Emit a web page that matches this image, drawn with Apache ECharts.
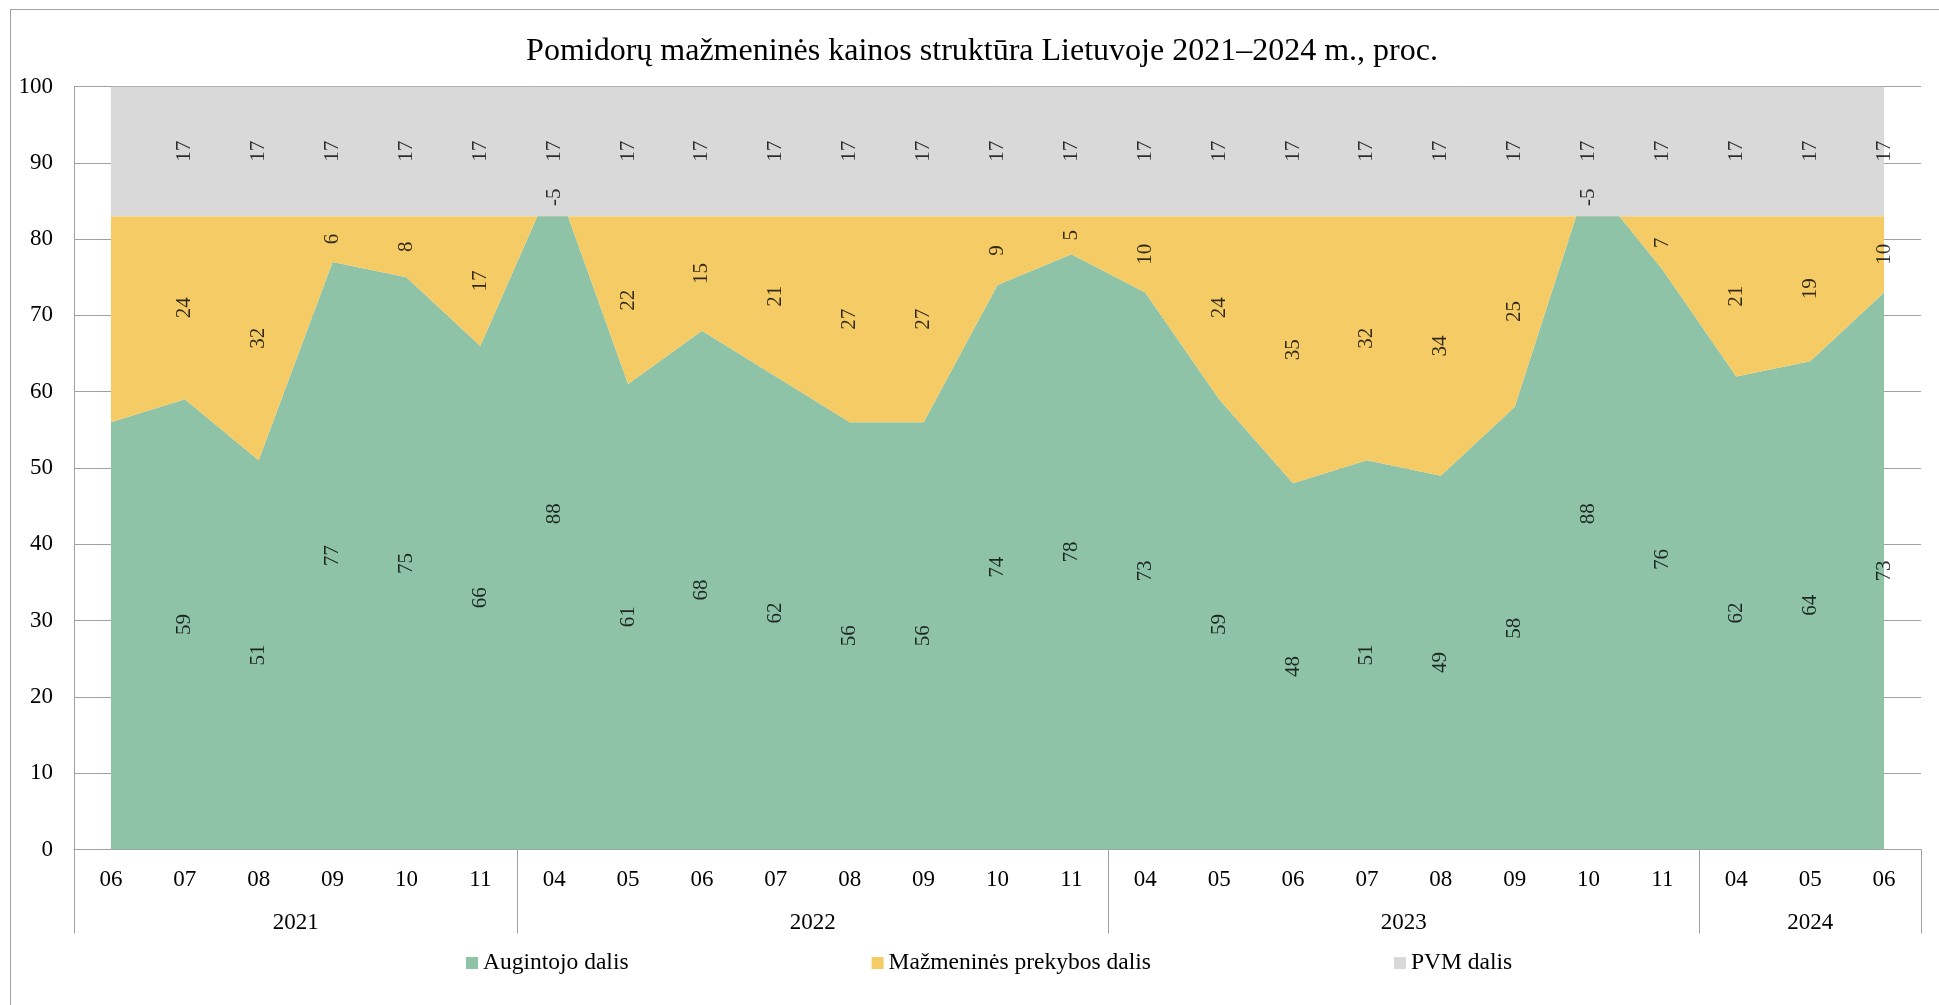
<!DOCTYPE html>
<html lang="lt">
<head>
<meta charset="utf-8">
<title>Pomidorų mažmeninės kainos struktūra</title>
<script src="https://cdn.jsdelivr.net/npm/echarts@6.0.0/dist/echarts.min.js"></script>
<style>
  html, body { margin: 0; padding: 0; background: #fff; overflow: hidden; }
  #chart { width: 1939px; height: 1005px; }
  #frame {
    position: absolute; left: 10px; top: 9px;
    width: 2000px; height: 1100px;
    border: 1px solid #a0a0a0; pointer-events: none;
  }
</style>
</head>
<body>
<div id="chart"></div>
<div id="frame"></div>
<script>
// Months shown on the axis, grouped by year
const months = ['06', '07', '08', '09', '10', '11',
                '04', '05', '06', '07', '08', '09', '10', '11',
                '04', '05', '06', '07', '08', '09', '10', '11',
                '04', '05', '06'];
const years = ['2021', '2022', '2023', '2024'];
const monthsPerYear = [6, 8, 8, 3];

// Price structure shares, %
const growerShare = [56, 59, 51, 77, 75, 66, 88, 61, 68, 62, 56, 56, 74, 78,
                     73, 59, 48, 51, 49, 58, 88, 76, 62, 64, 73];
const retailShare = [27, 24, 32, 6, 8, 17, -5, 22, 15, 21, 27, 27, 9, 5,
                     10, 24, 35, 32, 34, 25, -5, 7, 21, 19, 10];
const vatShare = [17, 17, 17, 17, 17, 17, 17, 17, 17, 17, 17, 17, 17, 17,
                  17, 17, 17, 17, 17, 17, 17, 17, 17, 17, 17];

const yTicks = { min: 0, max: 100, interval: 10 };

const seriesNames = ['Augintojo dalis', 'Mažmeninės prekybos dalis', 'PVM dalis'];
const seriesColors = ['#8fc3a7', '#f5cb66', '#d9d9d9'];
const FONT = "'Liberation Serif', 'Times New Roman', serif";
const AXIS_GREY = '#a0a0a0';

// Year group boundaries and centres on a 0..N index scale
const yearEdges = [0];
monthsPerYear.forEach(n => yearEdges.push(yearEdges[yearEdges.length - 1] + n));
const yearCentres = years.map((_, i) => (yearEdges[i] + yearEdges[i + 1]) / 2);

const shares = [growerShare, retailShare, vatShare];

// Cumulative base under each layer
const bases = [];
let running = growerShare.map(() => 0);
shares.forEach(vals => {
  bases.push(running.slice());
  running = running.map((b, i) => b + vals[i]);
});

const areaSeries = shares.map((vals, k) => ({
  name: seriesNames[k],
  type: 'line',
  stack: 'structure',
  stackStrategy: 'all',
  data: vals,
  symbol: 'none',
  lineStyle: { width: 0 },
  itemStyle: { color: seriesColors[k] },
  areaStyle: { color: seriesColors[k], opacity: 1 },
  emphasis: { disabled: true },
  z: 2
}));

// Value labels centred inside each band
const labelSeries = shares.map((vals, k) => ({
  name: seriesNames[k] + ' (reikšmės)',
  type: 'scatter',
  data: vals.map((v, i) => [i, bases[k][i] + v / 2, v]),
  encode: { x: 0, y: 1 },
  symbolSize: 1,
  itemStyle: { color: 'transparent' },
  silent: true,
  z: 5,
  label: {
    show: true,
    position: 'inside',
    rotate: 90,
    fontFamily: FONT,
    fontSize: 21,
    color: '#000',
    formatter: p => (p.dataIndex === 0 ? '' : String(p.value[2]))
  }
}));

const chart = echarts.init(document.getElementById('chart'), null, { renderer: 'canvas' });

chart.setOption({
  animation: false,
  backgroundColor: '#fff',
  textStyle: { fontFamily: FONT },
  title: {
    text: 'Pomidorų mažmeninės kainos struktūra Lietuvoje 2021–2024 m., proc.',
    left: 977,
    textAlign: 'center',
    top: 31,
    textStyle: { fontFamily: FONT, fontSize: 32, fontWeight: 'normal', color: '#000' }
  },
  legend: {
    data: seriesNames,
    left: 461,
    top: 946,
    icon: 'rect',
    itemWidth: 12,
    itemHeight: 12,
    itemGap: 243,
    textStyle: { fontFamily: FONT, fontSize: 23.5, color: '#000' },
    selectedMode: false
  },
  grid: { left: 74, right: 18, top: 86.5, bottom: 155.5, containLabel: false },
  xAxis: [
    {
      type: 'category',
      data: months,
      boundaryGap: true,
      position: 'bottom',
      axisLine: { lineStyle: { color: AXIS_GREY, width: 1 } },
      axisTick: { show: false },
      axisLabel: { fontFamily: FONT, fontSize: 23, color: '#000', margin: 19, interval: 0 },
      splitLine: { show: false }
    },
    {
      type: 'value',
      min: 0,
      max: months.length,
      position: 'bottom',
      offset: 0,
      axisLine: { show: false },
      axisTick: {
        show: true,
        customValues: yearEdges,
        length: 84,
        lineStyle: { color: AXIS_GREY, width: 1 }
      },
      axisLabel: {
        show: true,
        customValues: yearCentres,
        margin: 62,
        fontFamily: FONT,
        fontSize: 23,
        color: '#000',
        formatter: v => {
          const i = yearCentres.indexOf(v);
          return i >= 0 ? years[i] : '';
        }
      },
      splitLine: { show: false }
    }
  ],
  yAxis: {
    type: 'value',
    min: yTicks.min,
    max: yTicks.max,
    interval: yTicks.interval,
    axisLine: { show: true, lineStyle: { color: AXIS_GREY, width: 1 } },
    axisTick: { show: false },
    axisLabel: { fontFamily: FONT, fontSize: 23, color: '#000', margin: 21 },
    splitLine: { show: true, lineStyle: { color: AXIS_GREY, width: 1 } }
  },
  series: [...areaSeries, ...labelSeries]
});
</script>
</body>
</html>
